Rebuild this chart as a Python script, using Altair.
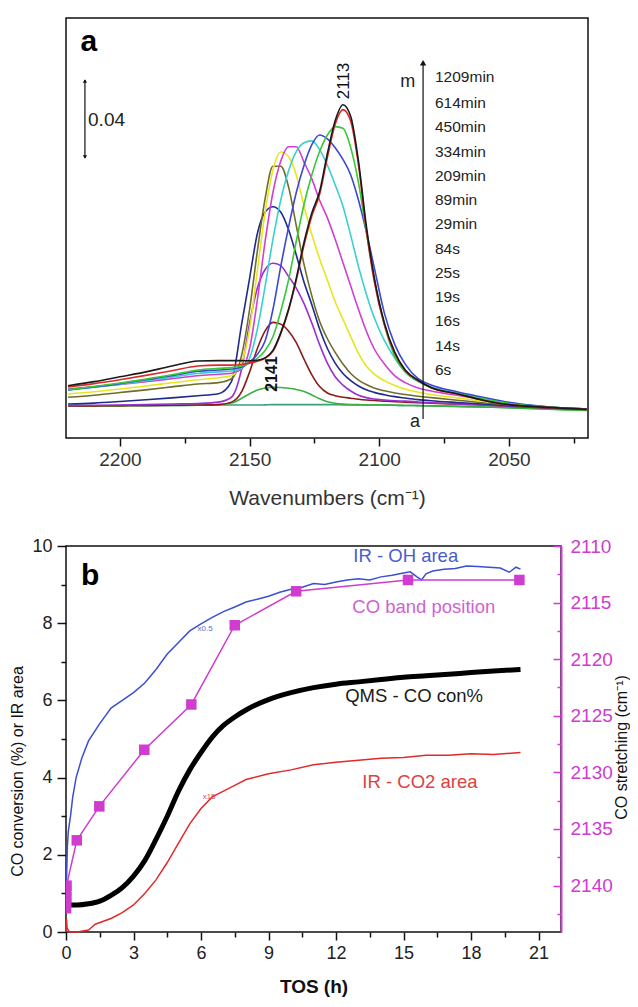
import altair as alt
import pandas as pd

FONT = "Liberation Sans"

# ---------------- Panel a : in-situ IR spectra ----------------
wavenumber = [2220, 2210, 2200, 2190, 2180, 2170, 2162, 2157, 2153, 2150, 2147, 2144, 2141, 2138, 2135, 2132,
              2129, 2126, 2123, 2120, 2117, 2114, 2111, 2108, 2105, 2102, 2098, 2094, 2090, 2085, 2080, 2070,
              2060, 2050, 2040, 2030, 2020]
curve_ids = ["a", "b", "c", "d", "e", "f", "g", "h", "i", "j", "k", "l", "m"]
curve_labels = ["6s", "14s", "16s", "19s", "25s", "84s", "29min", "89min", "209min", "334min", "450min",
                "614min", "1209min"]
curve_colors = ["#3aa078", "#3cb043", "#8b1a1a", "#9b30d0", "#1f2a8c", "#6e6e2a", "#e6e620", "#d040d0",
                "#38d0d0", "#3c48d0", "#38c838", "#e02828", "#1a1a1a"]

abs_a = [0.0005, 0.0005, 0.0006, 0.0007, 0.0008, 0.0009, 0.0010, 0.0010, 0.0010, 0.0010,
         0.0010, 0.0011, 0.0012, 0.0012, 0.0012, 0.0012, 0.0012, 0.0012, 0.0012, 0.0012,
         0.0012, 0.0011, 0.0011, 0.0010, 0.0010, 0.0010, 0.0010, 0.0009, 0.0008, 0.0007,
         0.0006, 0.0003, 0.0000, -0.0004, -0.0008, -0.0012, -0.0015]
abs_b = [0.0005, 0.0005, 0.0006, 0.0007, 0.0008, 0.0009, 0.0012, 0.0020, 0.0045, 0.0068,
         0.0087, 0.0097, 0.0101, 0.0100, 0.0096, 0.0090, 0.0080, 0.0062, 0.0042, 0.0027,
         0.0019, 0.0015, 0.0013, 0.0012, 0.0011, 0.0010, 0.0010, 0.0009, 0.0008, 0.0007,
         0.0006, 0.0003, 0.0000, -0.0004, -0.0009, -0.0014, -0.0018]
abs_c = [0.0006, 0.0006, 0.0007, 0.0008, 0.0009, 0.0010, 0.0012, 0.0025, 0.0080, 0.0180,
         0.0300, 0.0390, 0.0434, 0.0425, 0.0390, 0.0330, 0.0245, 0.0165, 0.0105, 0.0072,
         0.0058, 0.0050, 0.0045, 0.0040, 0.0036, 0.0033, 0.0030, 0.0027, 0.0025, 0.0022,
         0.0020, 0.0015, 0.0010, 0.0004, -0.0002, -0.0008, -0.0012]
abs_d = [0.0008, 0.0009, 0.0010, 0.0012, 0.0015, 0.0018, 0.0025, 0.0050, 0.0200, 0.0430,
         0.0610, 0.0705, 0.0737, 0.0725, 0.0670, 0.0610, 0.0530, 0.0430, 0.0320, 0.0225,
         0.0155, 0.0112, 0.0082, 0.0060, 0.0048, 0.0041, 0.0036, 0.0032, 0.0030, 0.0026,
         0.0022, 0.0016, 0.0011, 0.0005, -0.0001, -0.0007, -0.0012]
abs_e = [0.0015, 0.0020, 0.0028, 0.0037, 0.0047, 0.0058, 0.0068, 0.0130, 0.0430, 0.0660,
         0.0890, 0.1000, 0.1027, 0.1000, 0.0910, 0.0780, 0.0640, 0.0525, 0.0400, 0.0300,
         0.0225, 0.0172, 0.0135, 0.0108, 0.0088, 0.0075, 0.0063, 0.0053, 0.0046, 0.0038,
         0.0032, 0.0023, 0.0015, 0.0007, 0.0000, -0.0006, -0.0011]
abs_f = [0.0050, 0.0060, 0.0074, 0.0088, 0.0103, 0.0118, 0.0125, 0.0145, 0.0270, 0.0500,
         0.0800, 0.1070, 0.1235, 0.1235, 0.1130, 0.0930, 0.0730, 0.0570, 0.0440, 0.0350,
         0.0280, 0.0220, 0.0172, 0.0138, 0.0115, 0.0098, 0.0083, 0.0072, 0.0064, 0.0055,
         0.0048, 0.0035, 0.0022, 0.0010, 0.0002, -0.0005, -0.0010]
abs_g = [0.0067, 0.0078, 0.0092, 0.0108, 0.0124, 0.0140, 0.0150, 0.0160, 0.0230, 0.0400,
         0.0700, 0.1000, 0.1215, 0.1308, 0.1285, 0.1190, 0.1030, 0.0885, 0.0760, 0.0650,
         0.0540, 0.0450, 0.0360, 0.0275, 0.0210, 0.0170, 0.0135, 0.0110, 0.0092, 0.0076,
         0.0064, 0.0047, 0.0030, 0.0014, 0.0004, -0.0004, -0.0010]
abs_h = [0.0092, 0.0103, 0.0116, 0.0130, 0.0145, 0.0160, 0.0168, 0.0173, 0.0195, 0.0300,
         0.0550, 0.0850, 0.1100, 0.1260, 0.1335, 0.1335, 0.1255, 0.1170, 0.1060, 0.0970,
         0.0860, 0.0740, 0.0620, 0.0500, 0.0390, 0.0300, 0.0220, 0.0160, 0.0125, 0.0098,
         0.0082, 0.0060, 0.0038, 0.0018, 0.0005, -0.0004, -0.0010]
abs_i = [0.0087, 0.0101, 0.0117, 0.0135, 0.0153, 0.0172, 0.0180, 0.0185, 0.0200, 0.0250,
         0.0400, 0.0620, 0.0860, 0.1060, 0.1210, 0.1310, 0.1355, 0.1365, 0.1320, 0.1240,
         0.1140, 0.1030, 0.0880, 0.0720, 0.0580, 0.0460, 0.0340, 0.0250, 0.0180, 0.0130,
         0.0103, 0.0072, 0.0045, 0.0021, 0.0006, -0.0004, -0.0010]
abs_j = [0.0087, 0.0103, 0.0120, 0.0140, 0.0160, 0.0183, 0.0190, 0.0195, 0.0205, 0.0230,
         0.0270, 0.0340, 0.0500, 0.0720, 0.0920, 0.1100, 0.1240, 0.1345, 0.1395, 0.1375,
         0.1330, 0.1270, 0.1190, 0.1060, 0.0900, 0.0720, 0.0480, 0.0320, 0.0220, 0.0145,
         0.0113, 0.0078, 0.0050, 0.0024, 0.0007, -0.0004, -0.0010]
abs_k = [0.0089, 0.0105, 0.0123, 0.0143, 0.0165, 0.0190, 0.0198, 0.0202, 0.0210, 0.0225,
         0.0250, 0.0290, 0.0360, 0.0490, 0.0650, 0.0850, 0.1040, 0.1190, 0.1310, 0.1395,
         0.1438, 0.1430, 0.1330, 0.1150, 0.0900, 0.0660, 0.0420, 0.0260, 0.0180, 0.0133,
         0.0098, 0.0068, 0.0042, 0.0018, 0.0005, -0.0005, -0.0015]
abs_l = [0.0103, 0.0120, 0.0140, 0.0162, 0.0186, 0.0210, 0.0215, 0.0215, 0.0218, 0.0225,
         0.0235, 0.0250, 0.0285, 0.0375, 0.0495, 0.0650, 0.0830, 0.0980, 0.1090, 0.1280,
         0.1450, 0.1525, 0.1465, 0.1240, 0.0910, 0.0650, 0.0420, 0.0275, 0.0188, 0.0135,
         0.0099, 0.0067, 0.0035, 0.0012, 0.0002, -0.0006, -0.0012]
abs_m = [0.0109, 0.0130, 0.0155, 0.0180, 0.0210, 0.0236, 0.0238, 0.0238, 0.0238, 0.0237,
         0.0240, 0.0252, 0.0290, 0.0380, 0.0500, 0.0660, 0.0845, 0.0995, 0.1105, 0.1300,
         0.1468, 0.1550, 0.1490, 0.1260, 0.0930, 0.0670, 0.0430, 0.0280, 0.0190, 0.0137,
         0.0100, 0.0068, 0.0035, 0.0012, 0.0002, -0.0006, -0.0012]
spectra = [abs_a, abs_b, abs_c, abs_d, abs_e, abs_f, abs_g, abs_h, abs_i, abs_j, abs_k, abs_l, abs_m]

# time-label list (bottom a .. top m), in absorbance units of the plot
label_level = [0.0190, 0.0313, 0.0441, 0.0564, 0.0687, 0.0810, 0.0938, 0.1062, 0.1185, 0.1308,
               0.1436, 0.1559, 0.1692]
label_wn = 2078.5

wn_major = [2200, 2150, 2100, 2050]
wn_minor = [2175, 2125, 2075, 2025]

# ---------------- Panel b : TOS evolution ----------------
tos_oh = [0, 0.03, 0.06, 0.1, 0.2, 0.3, 0.45, 0.7, 1.0, 1.5,
          2.0, 2.5, 3.0, 3.5, 4.0, 4.5, 5.0, 5.5, 6.0, 6.5,
          7.0, 7.5, 8.0, 8.5, 9.0, 9.5, 10.0, 10.5, 11.0, 11.5,
          12.0, 12.5, 13.0, 13.5, 14.0, 14.5, 15.0, 15.3, 15.6, 15.8,
          16.0, 16.3, 16.8, 17.3, 17.8, 18.3, 18.8, 19.3, 19.7, 20.0, 20.2]
oh_area = [0.8, 1.5, 2.2, 2.6, 3.0, 3.5, 4.0, 4.5, 4.95, 5.4,
           5.8, 6.0, 6.2, 6.45, 6.8, 7.2, 7.5, 7.8, 7.98, 8.15,
           8.3, 8.42, 8.55, 8.62, 8.7, 8.8, 8.88, 8.93, 9.03, 9.0,
           9.07, 9.12, 9.15, 9.12, 9.2, 9.24, 9.3, 9.33, 9.2, 9.12,
           9.28, 9.35, 9.4, 9.42, 9.48, 9.47, 9.45, 9.43, 9.32, 9.45, 9.4]
tos_qms = [0, 0.5, 1.0, 1.5, 2.0, 2.5, 3.0, 3.5, 4.0, 4.5, 5.0, 5.5, 6.0, 6.5, 7.0, 7.5, 8.0, 8.5, 9.0,
           10.0, 11.0, 12.0, 13.0, 14.0, 15.0, 16.0, 17.0, 18.0, 19.0, 20.2]
qms_conv = [0.7, 0.7, 0.73, 0.8, 0.95, 1.15, 1.45, 1.85, 2.4, 3.0, 3.65, 4.2, 4.65, 5.05, 5.35, 5.57, 5.75,
            5.9, 6.02, 6.2, 6.33, 6.42, 6.48, 6.54, 6.6, 6.64, 6.68, 6.72, 6.76, 6.8]
tos_co2 = [0, 0.02, 0.05, 0.15, 0.5, 1.0, 1.3, 2.0, 2.5, 3.0, 3.5, 4.0, 4.5, 5.0, 5.5, 6.0, 6.5, 7.0, 7.5,
           8.0, 9.0, 10.0, 11.0, 12.0, 13.0, 14.0, 15.0, 16.0, 17.0, 18.0, 19.0, 20.2]
co2_area = [0.0, 0.35, 0.1, 0.0, 0.0, 0.05, 0.2, 0.35, 0.5, 0.7, 1.0, 1.35, 1.8, 2.3, 2.8, 3.2, 3.5, 3.65,
            3.8, 3.95, 4.1, 4.2, 4.33, 4.4, 4.45, 4.5, 4.52, 4.58, 4.58, 4.62, 4.6, 4.65]
tos_band = [0.0017, 0.0039, 0.0044, 0.0053, 0.0069, 0.023, 0.48, 1.48, 3.48, 5.57, 7.5, 10.23, 15.2, 20.15]
band_pos = [2142, 2141.5, 2141, 2141, 2140.5, 2140, 2136, 2133, 2128, 2124, 2117, 2114, 2113, 2113]

tos_major = [0, 3, 6, 9, 12, 15, 18, 21]
tos_minor = [1.5, 4.5, 7.5, 10.5, 13.5, 16.5, 19.5]
left_major = [0, 2, 4, 6, 8, 10]
left_minor = [1, 3, 5, 7, 9]
right_major = [2110, 2115, 2120, 2125, 2130, 2135, 2140]
right_minor = [2112.5, 2117.5, 2122.5, 2127.5, 2132.5, 2137.5, 2142.5]

WA, HA = 522, 420
WB, HB = 495, 386
MAG = "#cf3ccf"

# ================= Panel a =================
rows = []
for cid, vals in zip(curve_ids, spectra):
    for w, v in zip(wavenumber, vals):
        rows.append({"curve": cid, "wn": w, "A": v})
df_spec = pd.DataFrame(rows)

xsa = alt.Scale(domain=[2019.5, 2220.8], reverse=True, nice=False, zero=False)
ysa = alt.Scale(domain=[-0.0159, 0.1995], nice=False, zero=False)

lines_a = alt.Chart(df_spec).mark_line(strokeWidth=1.6, interpolate="monotone").encode(
    x=alt.X("wn:Q", scale=xsa, axis=alt.Axis(
        values=wn_major, format="d", tickSize=8, tickWidth=1.5, tickColor="#111", domain=False, grid=False,
        labelFont=FONT, labelFontSize=19, labelColor="#333", labelPadding=4, labelFlush=False,
        title="Wavenumbers (cm⁻¹)", titleFont=FONT, titleFontSize=21, titleFontWeight="normal",
        titleColor="#333", titleY=60, titleBaseline="middle", orient="bottom")),
    y=alt.Y("A:Q", scale=ysa, axis=alt.Axis(
        labels=False, ticks=False, domain=False, grid=False, title="Absorbance", titleFont=FONT,
        titleFontSize=20, titleFontWeight="normal", titleColor="#333", titleX=-40, titleY=201,
        titleAngle=270, titleAlign="center", titleBaseline="middle", orient="left")),
    color=alt.Color("curve:N", scale=alt.Scale(domain=curve_ids, range=curve_colors), legend=None),
)

minor_a = alt.Chart(pd.DataFrame({"wn": wn_minor})).mark_point(opacity=0).encode(
    x=alt.X("wn:Q", scale=xsa, axis=alt.Axis(values=wn_minor, labels=False, tickSize=5, tickWidth=1.5,
                                             tickColor="#111", domain=False, grid=False, title=None,
                                             orient="bottom")),
    y=alt.value(0),
)

# scale bar (0.04) and time arrow
df_rules = pd.DataFrame({"wn": [2213.5, 2083.1], "y1": [0.1277, -0.0062], "y2": [0.1677, 0.1760]})
rules_a = alt.Chart(df_rules).mark_rule(color="#111", strokeWidth=1.2).encode(
    x=alt.X("wn:Q", scale=xsa, axis=None),
    y=alt.Y("y1:Q", scale=ysa, axis=None),
    y2="y2:Q",
)
df_heads = pd.DataFrame({"wn": [2213.5, 2213.5, 2083.1], "A": [0.1672, 0.1282, 0.1765],
                         "shape": ["triangle-up", "triangle-down", "triangle-up"], "s": [18, 18, 40]})
heads_a = alt.Chart(df_heads).mark_point(filled=True, color="#111", opacity=1).encode(
    x=alt.X("wn:Q", scale=xsa, axis=None),
    y=alt.Y("A:Q", scale=ysa, axis=None),
    shape=alt.Shape("shape:N", scale=None),
    size=alt.Size("s:Q", scale=None),
)

df_times = pd.DataFrame({"wn": [label_wn] * len(curve_labels), "A": label_level, "t": curve_labels})
times_a = alt.Chart(df_times).mark_text(align="left", baseline="middle", font=FONT, fontSize=15.5,
                                        color="#222").encode(
    x=alt.X("wn:Q", scale=xsa, axis=None),
    y=alt.Y("A:Q", scale=ysa, axis=None),
    text="t:N",
)

df_small = pd.DataFrame({"wn": [2089.0, 2086.2], "A": [0.1667, -0.0077], "t": ["m", "a"]})
small_a = alt.Chart(df_small).mark_text(align="center", baseline="middle", font=FONT,
                                        fontSize=18, color="#222").encode(
    x=alt.X("wn:Q", scale=xsa, axis=None),
    y=alt.Y("A:Q", scale=ysa, axis=None),
    text="t:N",
)
df_scale_lbl = pd.DataFrame({"wn": [2212.3], "A": [0.1472], "t": ["0.04"]})
scale_lbl = alt.Chart(df_scale_lbl).mark_text(align="left", baseline="middle", font=FONT, fontSize=19,
                                              color="#222").encode(
    x=alt.X("wn:Q", scale=xsa, axis=None),
    y=alt.Y("A:Q", scale=ysa, axis=None),
    text="t:N",
)

df_peak = pd.DataFrame({"wn": [2141.2, 2113.6], "A": [0.0169, 0.1672], "t": ["2141", "2113"]})
peak_bold = alt.Chart(df_peak.iloc[:1]).mark_text(angle=270, align="center", baseline="middle", font=FONT,
                                                  fontSize=16, fontWeight="bold", color="#111").encode(
    x=alt.X("wn:Q", scale=xsa, axis=None),
    y=alt.Y("A:Q", scale=ysa, axis=None),
    text="t:N",
)
peak_norm = alt.Chart(df_peak.iloc[1:]).mark_text(angle=270, align="center", baseline="middle", font=FONT,
                                                  fontSize=17, color="#111").encode(
    x=alt.X("wn:Q", scale=xsa, axis=None),
    y=alt.Y("A:Q", scale=ysa, axis=None),
    text="t:N",
)

panel_letter_a = alt.Chart(pd.DataFrame({"wn": [2212.0], "A": [0.1872], "t": ["a"]})).mark_text(
    align="center", baseline="middle", font=FONT, fontSize=30, fontWeight="bold", color="#000").encode(
    x=alt.X("wn:Q", scale=xsa, axis=None),
    y=alt.Y("A:Q", scale=ysa, axis=None),
    text="t:N",
)

panel_a = alt.layer(lines_a, minor_a, rules_a, heads_a, times_a, small_a, scale_lbl, peak_bold, peak_norm,
                    panel_letter_a).resolve_axis(x="independent").properties(width=WA, height=HA)

# ================= Panel b =================
xsb = alt.Scale(domain=[0, 22], nice=False, zero=False)


def ysb():
    return alt.Scale(domain=[0, 10], nice=False, zero=False)


def ysr():
    return alt.Scale(domain=[2110, 2144.1], reverse=True, nice=False, zero=False)


oh_line = alt.Chart(pd.DataFrame({"t": tos_oh, "v": oh_area})).mark_line(color="#3b4fd1", strokeWidth=1.5).encode(
    x=alt.X("t:Q", scale=xsb, axis=alt.Axis(
        values=tos_major, tickSize=8, tickWidth=1.5, tickColor="#111", domain=False, grid=False,
        labelFont=FONT, labelFontSize=18, labelColor="#222", labelPadding=4, labelFlush=False,
        title="TOS (h)", titleFont=FONT, titleFontSize=19, titleFontWeight="bold", titleColor="#111",
        titleY=54, titleBaseline="middle", orient="bottom")),
    y=alt.Y("v:Q", scale=ysb(), axis=alt.Axis(
        values=left_major, tickSize=9, tickWidth=1.5, tickColor="#111", domain=False, grid=False,
        labelFont=FONT, labelFontSize=18, labelColor="#222", labelPadding=5, labelFlush=False,
        title="CO conversion (%) or IR area", titleFont=FONT, titleFontSize=16, titleFontWeight="normal",
        titleColor="#111", titleX=-49, titleY=225, titleAngle=270, titleAlign="center",
        titleBaseline="middle", orient="left")),
)

qms_line = alt.Chart(pd.DataFrame({"t": tos_qms, "v": qms_conv})).mark_line(
    color="#000", strokeWidth=5, interpolate="monotone").encode(
    x=alt.X("t:Q", scale=xsb, axis=alt.Axis(
        values=tos_minor, labels=False, tickSize=5, tickWidth=1.5, tickColor="#111", domain=False,
        grid=False, title=None, orient="bottom")),
    y=alt.Y("v:Q", scale=ysb(), axis=alt.Axis(
        values=left_minor, labels=False, tickSize=5, tickWidth=1.5, tickColor="#111", domain=False,
        grid=False, title=None, orient="left")),
)

co2_line = alt.Chart(pd.DataFrame({"t": tos_co2, "v": co2_area})).mark_line(color="#e02a2a", strokeWidth=1.5).encode(
    x=alt.X("t:Q", scale=xsb, axis=None),
    y=alt.Y("v:Q", scale=ysb(), axis=None),
)

df_band = pd.DataFrame({"t": tos_band, "p": band_pos})
band_line = alt.Chart(df_band).mark_line(color=MAG, strokeWidth=1.5, clip=True).encode(
    x=alt.X("t:Q", scale=xsb, axis=None),
    y=alt.Y("p:Q", scale=ysr(), axis=alt.Axis(
        values=right_major, format="d", ticks=False, domain=True, domainColor=MAG, domainWidth=2, grid=False,
        labelFont=FONT, labelFontSize=19, labelColor=MAG, labelPadding=9, labelFlush=False,
        title="CO stretching (cm⁻¹)", titleFont=FONT, titleFontSize=16, titleFontWeight="normal",
        titleColor="#111", titleX=60, titleY=201, titleAngle=270, titleAlign="center",
        titleBaseline="middle", orient="right")),
)
band_pts = alt.Chart(df_band).mark_point(shape="square", filled=True, size=110, color=MAG, opacity=1,
                                         clip=True).encode(
    x=alt.X("t:Q", scale=xsb, axis=None),
    y=alt.Y("p:Q", scale=ysr(), axis=alt.Axis(
        values=right_major, labels=False, domain=False, grid=False, tickSize=8, tickWidth=1.5,
        tickColor=MAG, title=None, orient="left", offset=-WB)),
)
band_minor = alt.Chart(df_band).mark_point(opacity=0).encode(
    x=alt.X("t:Q", scale=xsb, axis=None),
    y=alt.Y("p:Q", scale=ysr(), axis=alt.Axis(
        values=right_minor, labels=False, domain=False, grid=False, tickSize=4, tickWidth=1.5,
        tickColor=MAG, title=None, orient="left", offset=-WB)),
)

df_lbl_b = pd.DataFrame({
    "t": [15.1, 15.9, 15.47, 15.73],
    "v": [9.74, 8.42, 6.11, 3.89],
    "txt": ["IR - OH area", "CO band position", "QMS - CO con%", "IR - CO2 area"],
    "c": ["#4a5ccc", "#d062d0", "#1a1a1a", "#e04040"],
})
lbl_b = alt.Chart(df_lbl_b).mark_text(align="center", baseline="middle", font=FONT, fontSize=18.5).encode(
    x=alt.X("t:Q", scale=xsb, axis=None),
    y=alt.Y("v:Q", scale=ysb(), axis=None),
    text="txt:N",
    color=alt.Color("c:N", scale=None),
)
df_tiny = pd.DataFrame({"t": [6.18, 6.36], "v": [7.85, 3.5], "txt": ["x0.5", "x15"],
                        "c": ["#5a6ad0", "#e05050"]})
tiny_b = alt.Chart(df_tiny).mark_text(align="center", baseline="middle", font=FONT, fontSize=8).encode(
    x=alt.X("t:Q", scale=xsb, axis=None),
    y=alt.Y("v:Q", scale=ysb(), axis=None),
    text="txt:N",
    color=alt.Color("c:N", scale=None),
)
letter_b = alt.Chart(pd.DataFrame({"t": [1.07], "v": [9.22], "txt": ["b"]})).mark_text(
    align="center", baseline="middle", font=FONT, fontSize=30, fontWeight="bold", color="#000").encode(
    x=alt.X("t:Q", scale=xsb, axis=None),
    y=alt.Y("v:Q", scale=ysb(), axis=None),
    text="txt:N",
)

panel_b = alt.layer(oh_line, qms_line, co2_line, band_line, band_pts, band_minor, lbl_b, tiny_b, letter_b
                    ).resolve_scale(y="independent").resolve_axis(x="independent", y="independent"
                    ).properties(width=WB, height=HB)

chart = alt.vconcat(panel_a, panel_b, spacing=108, bounds="flush").properties(
    padding={"left": 0, "top": 6, "right": 0, "bottom": 0}
).configure(font=FONT).configure_view(stroke="#111", strokeWidth=1.5)

chart.save("out.html", embed_options={"renderer": "svg", "actions": False})
